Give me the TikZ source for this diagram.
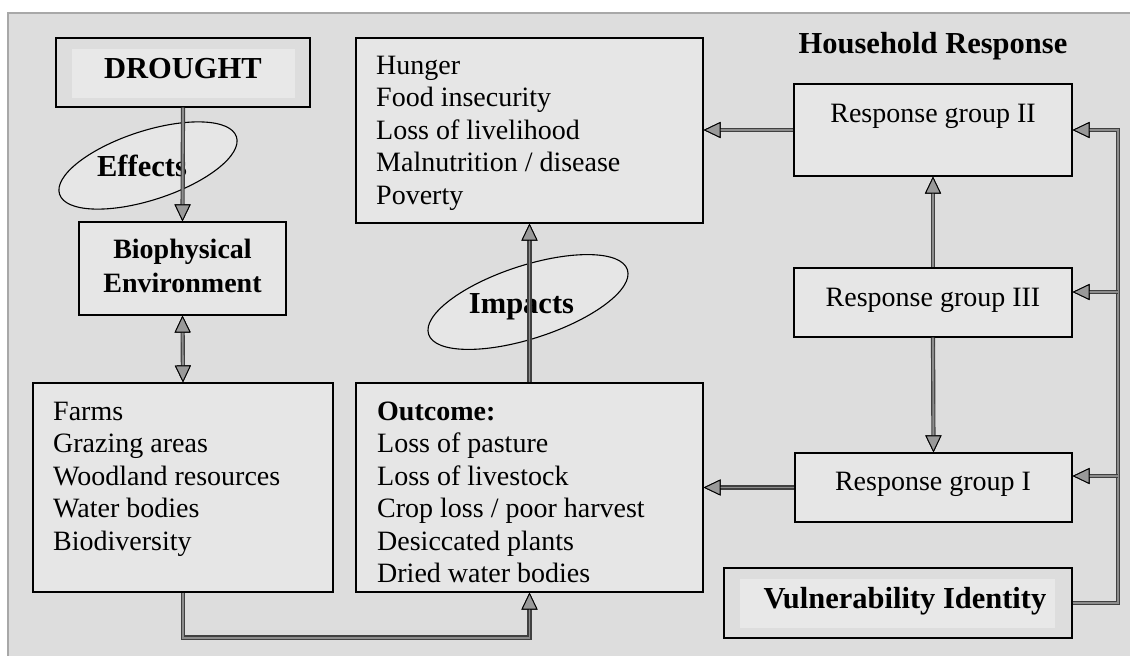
\documentclass[tikz,border=0pt]{standalone}
\usepackage{fontspec}
\setmainfont{Liberation Serif}
\usetikzlibrary{arrows.meta,shapes.geometric}
\definecolor{bgc}{HTML}{DDDDDD}
\definecolor{boxc}{HTML}{E6E6E6}
\definecolor{innc}{HTML}{E8E8E8}
\definecolor{edgec}{HTML}{A8A8A8}
\definecolor{headc}{HTML}{999999}
\definecolor{linec}{HTML}{404040}
\definecolor{lineinner}{HTML}{8C8C8C}
\begin{document}
\begin{tikzpicture}[x=1pt,y=-1pt,
  box/.style={draw=black, line width=1.1pt, fill=boxc, inner sep=0pt, rectangle},
  plainbox/.style={box, fill=bgc},
  innerbox/.style={fill=innc, inner sep=0pt, rectangle},
  oval/.style={draw=black, line width=1.1pt, fill=boxc, ellipse, inner sep=0pt},
  txt/.style={inner sep=0pt, font=\fontsize{28}{32}\selectfont},
  txtl/.style={inner sep=0pt, font=\fontsize{28}{32.5}\selectfont, align=left},
  ttl/.style={inner sep=0pt, font=\fontsize{30.5}{34}\selectfont\bfseries},
  headtip/.tip={Triangle[length=17pt,width=16pt,fill=headc,color=black,line width=0.9pt]},
  conn/.style={draw=lineinner, line width=1.9pt, preaction={draw=linec, line width=4.2pt}, -headtip},
  conntwo/.style={draw=lineinner, line width=1.9pt, preaction={draw=linec, line width=4.2pt}, headtip-headtip}
]
\useasboundingbox (0,0) rectangle (1130,656);
% background
\fill[white] (0,0) rectangle (1130,656);
\fill[bgc] (8,13) rectangle (1130,656);
\draw[edgec, line width=1.6pt] (8,656) -- (8,13) -- (1130,13);

% boxes
\node[plainbox, minimum width=254pt, minimum height=69pt] (dr) at (183,72.5) {};
\node[innerbox, minimum width=223pt, minimum height=49pt] (drin) at (183.5,73.5) {};
\node[box, minimum width=207pt, minimum height=93pt] (bio) at (182.5,268.5) {};
\node[box, minimum width=347pt, minimum height=185pt] (hun) at (529.5,130.5) {};
\node[box, minimum width=300pt, minimum height=209pt] (farms) at (183,487.5) {};
\node[box, minimum width=347pt, minimum height=209pt] (out) at (529.5,487.5) {};
\node[box, minimum width=278pt, minimum height=92pt] (rg2) at (933,130) {};
\node[box, minimum width=278pt, minimum height=69pt] (rg3) at (933,302.5) {};
\node[box, minimum width=277pt, minimum height=69pt] (rg1) at (933.5,487.5) {};
\node[plainbox, minimum width=348pt, minimum height=70pt] (vul) at (898,603) {};
\node[innerbox, minimum width=315pt, minimum height=49pt] (vulin) at (897.5,603.5) {};

% ellipses
\node[oval, minimum width=186pt, minimum height=69pt, rotate=18] (effo) at (148,165.5) {};
\node[oval, minimum width=209pt, minimum height=73pt, rotate=18] (impo) at (528,302) {};

% texts
\node[ttl, anchor=base] (drt) at (183,78) {DROUGHT};
\node[inner sep=0pt, anchor=north, align=center, font=\fontsize{28}{34}\selectfont\bfseries] (biot) at (182.5,234.2) {\strut Biophysical\\Environment};
\node[txtl, anchor=north west] (hunt) at (376,51.6) {\fontsize{28}{32}\selectfont\strut Hunger\\Food insecurity\\Loss of livelihood\\Malnutrition / disease\\Poverty};
\node[txtl, anchor=north west] (farmt) at (53,397.25) {\strut Farms\\Grazing areas\\Woodland resources\\Water bodies\\Biodiversity};
\node[txtl, anchor=north west] (outt) at (377,397.25) {\strut\textbf{Outcome:}\\Loss of pasture\\Loss of livestock\\Crop loss / poor harvest\\Desiccated plants\\Dried water bodies};
\node[ttl, anchor=base] (hht) at (933,53) {Household Response};
\node[txt, anchor=base] (rg2t) at (933,122) {Response group II};
\node[txt, anchor=base] (rg3t) at (933,306) {Response group III};
\node[txt, anchor=base] (rg1t) at (933,490) {Response group I};
\node[ttl, anchor=base] (vult) at (905,608) {Vulnerability Identity};
\node[ttl, anchor=base] (efft) at (142,176) {Effects};
\node[ttl, anchor=base] (impt) at (521.5,313) {Impacts};

% junctions on the right feeder line
\coordinate (jv) at (1118,603);
\coordinate (j2) at (1118,130);
\coordinate (j3) at (1118,292);
\coordinate (j1) at (1118,476);

% connectors
\draw[conn] (dr.south) -- (bio.north);
\draw[conntwo] (bio.south) -- (farms.north);
\draw[conn] (farms.south) -- ++(0,45) -| (out.south);
\draw[conn] (out.north) -- (hun.south);
\draw[conn] (rg2.west) -- (hun.east |- rg2.west);
\draw[conn] (rg3.north) -- (rg2.south);
\draw[conn] (rg3.south) -- (rg1.north);
\draw[conn] (rg1.west) -- (out.east |- rg1.west);
\draw[conn] (vul.east) -- (jv) -- (j2) -- (rg2.east);
\draw[conn] (j3) -- (j3 -| rg3.east);
\draw[conn] (j1) -- (j1 -| rg1.east);
\end{tikzpicture}
\end{document}
